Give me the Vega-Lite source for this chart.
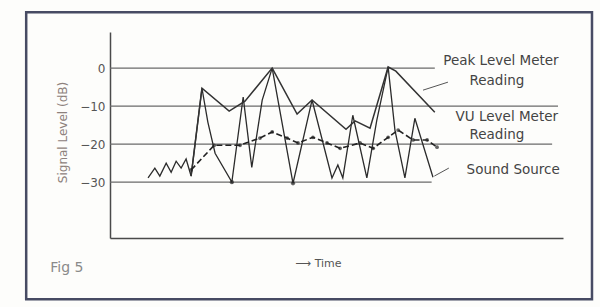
{
  "$schema": "https://vega.github.io/schema/vega-lite/v6.json",
  "width": 453,
  "height": 206,
  "autosize": {"type": "none"},
  "padding": {"left": 110, "top": 32, "right": 37, "bottom": 69},
  "background": "#fdfdfb",
  "config": {"view": {"stroke": null}, "font": "DejaVu Sans"},
  "datasets": {
    "frame": [{"x1": -18.5, "x2": 106.4, "y1": -60.8, "y2": 14.7}],
    "grid": [
      {"level": 0, "start": 0, "end": 71.7},
      {"level": -10, "start": 0, "end": 98.9},
      {"level": -20, "start": 0, "end": 97.6},
      {"level": -30, "start": 0, "end": 71}
    ],
    "leaders": [
      {"t": 69.1, "db": -5.8, "t2": 74.6, "db2": -3.7},
      {"t": 71.6, "db": -28.4, "t2": 74.8, "db2": -26.3}
    ],
    "labels": [
      {"t": 86.3, "db": 1.8, "text": "Peak Level Meter"},
      {"t": 85.4, "db": -3.4, "text": "Reading"},
      {"t": 87.6, "db": -12.9, "text": "VU Level Meter"},
      {"t": 85.4, "db": -17.6, "text": "Reading"},
      {"t": 89.0, "db": -26.8, "text": "Sound Source"}
    ],
    "fig": [{"t": -13.2, "db": -52.6, "text": "Fig 5"}],
    "source": [
      {"t": 8.4, "db": -28.9}, {"t": 9.9, "db": -26.3}, {"t": 11.0, "db": -28.4},
      {"t": 12.4, "db": -25.0}, {"t": 13.5, "db": -27.4}, {"t": 14.6, "db": -24.5},
      {"t": 15.7, "db": -26.3}, {"t": 16.8, "db": -23.9}, {"t": 17.9, "db": -28.4},
      {"t": 20.3, "db": -5.3}, {"t": 21.6, "db": -14.2}, {"t": 23.2, "db": -22.4},
      {"t": 26.9, "db": -30.0}, {"t": 29.4, "db": -7.6}, {"t": 31.3, "db": -26.1},
      {"t": 33.6, "db": -8.4}, {"t": 35.8, "db": 0}, {"t": 40.4, "db": -30.3},
      {"t": 44.6, "db": -8.4}, {"t": 49.0, "db": -28.9}, {"t": 50.3, "db": -25.5},
      {"t": 51.4, "db": -28.9}, {"t": 53.6, "db": -12.4}, {"t": 56.7, "db": -28.9},
      {"t": 58.9, "db": -13.7}, {"t": 61.4, "db": 0.3}, {"t": 62.9, "db": -16.3},
      {"t": 65.1, "db": -28.9}, {"t": 67.3, "db": -13.2}, {"t": 71.3, "db": -28.7}
    ],
    "peak": [
      {"t": 17.9, "db": -28.4}, {"t": 20.3, "db": -5.3}, {"t": 26.3, "db": -11.3},
      {"t": 29.8, "db": -8.7}, {"t": 35.8, "db": 0}, {"t": 41.3, "db": -12.1},
      {"t": 44.6, "db": -8.4}, {"t": 52.1, "db": -16.1}, {"t": 54.1, "db": -13.9},
      {"t": 57.4, "db": -15.8}, {"t": 61.4, "db": 0.3}, {"t": 63.1, "db": -0.8},
      {"t": 71.7, "db": -11.6}
    ],
    "vu": [
      {"t": 17.9, "db": -26.8}, {"t": 23.0, "db": -20.3}, {"t": 28.7, "db": -20.3},
      {"t": 33.1, "db": -18.4}, {"t": 35.8, "db": -16.8}, {"t": 39.1, "db": -18.4},
      {"t": 41.5, "db": -19.7}, {"t": 44.8, "db": -18.2}, {"t": 47.9, "db": -19.7},
      {"t": 50.8, "db": -21.1}, {"t": 55.2, "db": -19.7}, {"t": 58.1, "db": -21.1},
      {"t": 61.4, "db": -18.2}, {"t": 63.6, "db": -16.3}, {"t": 66.9, "db": -18.9},
      {"t": 70.0, "db": -18.9}, {"t": 72.2, "db": -20.8}
    ]
  },
  "layer": [
    {
      "data": {"name": "frame"},
      "mark": {"type": "rect", "fill": null, "stroke": "#474b63", "strokeWidth": 2.5},
      "encoding": {
        "x": {"field": "x1", "type": "quantitative", "scale": {"domain": [0, 100], "nice": false, "zero": false},
              "axis": {"grid": false, "labels": false, "ticks": false, "domain": true, "domainColor": "#4a4a4a", "domainWidth": 1.5,
                       "title": "⟶ Time", "titleFontSize": 11, "titleFontWeight": "normal", "titleColor": "#555",
                       "titleX": 208, "titleY": 25, "titleBaseline": "middle"}},
        "x2": {"field": "x2"},
        "y": {"field": "y1", "type": "quantitative", "scale": {"domain": [-44.7, 9.5], "nice": false, "zero": false},
              "axis": {"grid": false, "ticks": false, "domain": true, "domainColor": "#4a4a4a", "domainWidth": 1.5,
                       "values": [0, -10, -20, -30], "labelFontSize": 12, "labelColor": "#555", "labelPadding": 5,
                       "title": "Signal Level (dB)", "titleFontSize": 12, "titleFontWeight": "normal", "titleColor": "#8d817c",
                       "titleX": -48, "titleY": 100, "titleAngle": -90, "titleAlign": "center", "titleBaseline": "middle"}},
        "y2": {"field": "y2"}
      }
    },
    {
      "data": {"name": "grid"},
      "mark": {"type": "rule", "color": "#6a6a6a", "strokeWidth": 1.2},
      "encoding": {
        "x": {"field": "start", "type": "quantitative"},
        "x2": {"field": "end"},
        "y": {"field": "level", "type": "quantitative"}
      }
    },
    {
      "data": {"name": "leaders"},
      "mark": {"type": "rule", "color": "#555", "strokeWidth": 1},
      "encoding": {
        "x": {"field": "t", "type": "quantitative"},
        "x2": {"field": "t2"},
        "y": {"field": "db", "type": "quantitative"},
        "y2": {"field": "db2"}
      }
    },
    {
      "data": {"name": "source"},
      "mark": {"type": "line", "color": "#2b2b2b", "strokeWidth": 1.3},
      "encoding": {
        "x": {"field": "t", "type": "quantitative"},
        "y": {"field": "db", "type": "quantitative"}
      }
    },
    {
      "data": {"name": "source"},
      "transform": [{"filter": "datum.db <= -29.5"}],
      "mark": {"type": "point", "filled": true, "color": "#222", "size": 18},
      "encoding": {
        "x": {"field": "t", "type": "quantitative"},
        "y": {"field": "db", "type": "quantitative"}
      }
    },
    {
      "data": {"name": "peak"},
      "mark": {"type": "line", "color": "#333", "strokeWidth": 1.5},
      "encoding": {
        "x": {"field": "t", "type": "quantitative"},
        "y": {"field": "db", "type": "quantitative"}
      }
    },
    {
      "data": {"name": "vu"},
      "mark": {"type": "line", "color": "#222", "strokeWidth": 1.6, "strokeDash": [6, 3]},
      "encoding": {
        "x": {"field": "t", "type": "quantitative"},
        "y": {"field": "db", "type": "quantitative"}
      }
    },
    {
      "data": {"name": "vu"},
      "mark": {"type": "point", "filled": true, "color": "#222", "size": 14},
      "encoding": {
        "x": {"field": "t", "type": "quantitative"},
        "y": {"field": "db", "type": "quantitative"}
      }
    },
    {
      "data": {"name": "labels"},
      "mark": {"type": "text", "fontSize": 13.5, "color": "#444", "align": "center", "baseline": "middle"},
      "encoding": {
        "x": {"field": "t", "type": "quantitative"},
        "y": {"field": "db", "type": "quantitative"},
        "text": {"field": "text"}
      }
    },
    {
      "data": {"name": "fig"},
      "mark": {"type": "text", "fontSize": 14, "color": "#8a8a8a", "align": "left", "baseline": "middle"},
      "encoding": {
        "x": {"field": "t", "type": "quantitative"},
        "y": {"field": "db", "type": "quantitative"},
        "text": {"field": "text"}
      }
    }
  ]
}
